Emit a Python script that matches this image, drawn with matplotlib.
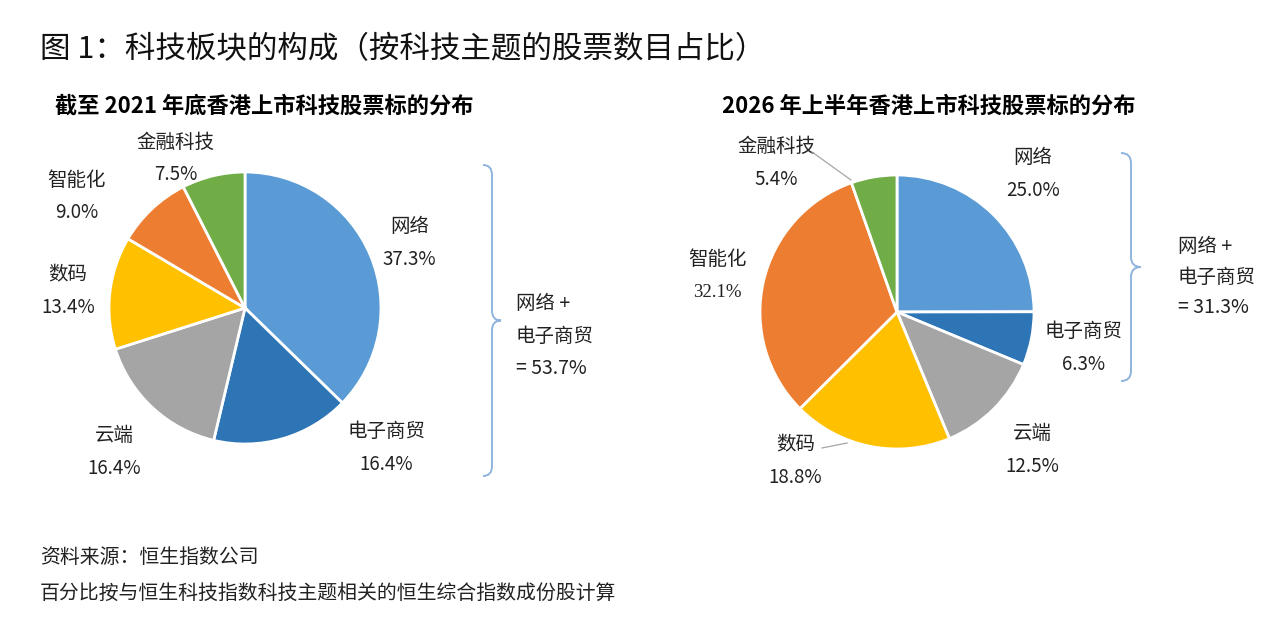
"""Tech sector composition: two pie charts (2021 vs 2026H1)."""
import matplotlib
matplotlib.use("Agg")
import matplotlib.pyplot as plt
from matplotlib.path import Path
from matplotlib.patches import PathPatch

plt.rcParams["font.family"] = ["Noto Sans CJK SC", "DejaVu Sans"]

W, H = 1280, 619
SPAN = 2.0

categories = ["网络", "电子商贸", "云端", "数码", "智能化", "金融科技"]
colors = ["#5B9BD5", "#2E75B6", "#A5A5A5", "#FFC000", "#ED7D31", "#70AD47"]

share_2021 = [37.3, 16.4, 16.4, 13.4, 9.0, 7.5]
share_2026 = [25.0, 6.3, 12.5, 18.8, 32.1, 5.4]

title = "图 1：科技板块的构成（按科技主题的股票数目占比）"
subtitle_2021 = "截至 2021 年底香港上市科技股票标的分布"
subtitle_2026 = "2026 年上半年香港上市科技股票标的分布"
combined_2021 = share_2021[0] + share_2021[1]
combined_2026 = share_2026[0] + share_2026[1]
notes = ["资料来源：恒生指数公司",
         "百分比按与恒生科技指数科技主题相关的恒生综合指数成份股计算"]

# label positions, in pie-radius units from the centre
label_pos_2021 = [(1.21, 0.48), (1.04, -1.03), (-0.96, -1.06),
                  (-1.30, 0.125), (-1.24, 0.82), (-0.51, 1.10)]
label_pos_2026 = [(0.99, 1.01), (1.36, -0.26), (0.99, -1.01),
                  (-0.74, -1.09), (-1.31, 0.26), (-0.88, 1.09)]


def fx(x):
    return x / W


def fy(y):
    return 1 - y / H


def pie_axes(fig, cx, cy, r):
    side = 2 * r * SPAN
    ax = fig.add_axes([fx(cx - side / 2), fy(cy + side / 2), side / W, side / H])
    ax.axis("off")
    return ax


def draw_pie(ax, values, label_pos, serif_idx=None):
    ax.pie(values, colors=colors, startangle=90, counterclock=False,
           radius=1.0, wedgeprops={"edgecolor": "white", "linewidth": 2})
    # pie() resets the limits, so set them afterwards
    ax.set_xlim(-SPAN, SPAN)
    ax.set_ylim(-SPAN, SPAN)
    ax.set_aspect("equal")
    for i, (name, val) in enumerate(zip(categories, values)):
        x, y = label_pos[i]
        ax.text(x, y + 0.12, name, ha="center", va="center", fontsize=14, color="#222222")
        fam = ["Liberation Serif"] if i == serif_idx else ["Noto Sans CJK SC", "DejaVu Sans"]
        ax.text(x, y - 0.12, f"{val:.1f}%", ha="center", va="center",
                fontsize=13.5, color="#222222", family=fam)


def brace(fig, x0, ytop, ybot, w=18, h1=10):
    ym = (ytop + ybot) / 2
    xm = x0 + w * 0.5
    pts = [(x0, ytop), (xm, ytop), (xm, ytop + h1),
           (xm, ym - h1), (xm, ym), (x0 + w, ym),
           (xm, ym), (xm, ym + h1),
           (xm, ybot - h1), (xm, ybot), (x0, ybot)]
    codes = [Path.MOVETO, Path.CURVE3, Path.CURVE3,
             Path.LINETO, Path.CURVE3, Path.CURVE3,
             Path.CURVE3, Path.CURVE3,
             Path.LINETO, Path.CURVE3, Path.CURVE3]
    path = Path([(fx(a), fy(b)) for a, b in pts], codes)
    fig.add_artist(PathPatch(path, transform=fig.transFigure, fill=False,
                             edgecolor="#8FB4DD", linewidth=1.4))


fig = plt.figure(figsize=(W / 100, H / 100), dpi=100)
fig.patch.set_facecolor("white")

fig.text(fx(40), fy(50), title, fontsize=22, style="italic", fontweight="light",
         va="center", ha="left", color="#111111")
fig.text(fx(55), fy(106), subtitle_2021, fontsize=16, fontweight="bold", va="center", ha="left")
fig.text(fx(722), fy(106), subtitle_2026, fontsize=16, fontweight="bold", va="center", ha="left")

ax1 = pie_axes(fig, 245, 308, 136)
draw_pie(ax1, share_2021, label_pos_2021)

ax2 = pie_axes(fig, 897, 312, 137)
draw_pie(ax2, share_2026, label_pos_2026, serif_idx=4)

# leader lines on the right pie
fig.add_artist(plt.Line2D([fx(812), fx(851)], [fy(152), fy(180)], color="#A6A6A6", lw=0.9))
fig.add_artist(plt.Line2D([fx(822), fx(847)], [fy(448), fy(443)], color="#A6A6A6", lw=0.9))

brace(fig, 483, 165, 476, w=18)
brace(fig, 1121, 153, 381, w=20)

fig.text(fx(516), fy(336), f"网络 +\n电子商贸\n= {combined_2021:.1f}%", fontsize=14,
         va="center", ha="left", linespacing=1.7, color="#222222")
fig.text(fx(1178), fy(277), f"网络 +\n电子商贸\n= {combined_2026:.1f}%", fontsize=14,
         va="center", ha="left", linespacing=1.6, color="#222222")

fig.text(fx(40), fy(557), notes[0], fontsize=14.3, style="italic", va="center", ha="left", color="#222222")
fig.text(fx(40), fy(593), notes[1], fontsize=14.3, style="italic", va="center", ha="left", color="#222222")

fig.savefig("out.png", dpi=100, facecolor="white")
